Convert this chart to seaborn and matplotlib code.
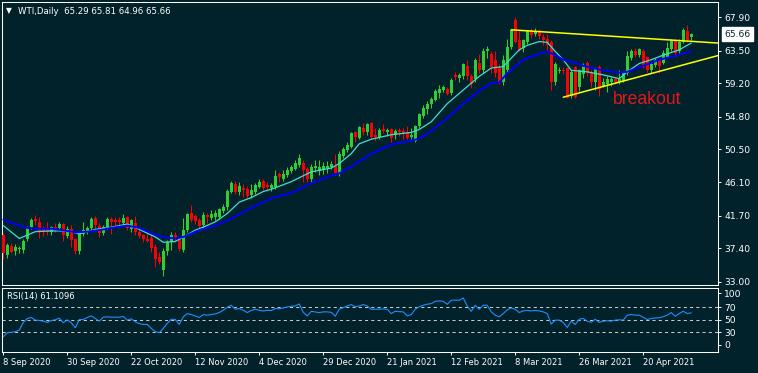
import matplotlib
matplotlib.use("Agg")
import matplotlib.pyplot as plt
import matplotlib.transforms as mtransforms
import numpy as np
import pandas as pd
import seaborn as sns

# --- data (bar 0 = 8 Sep 2020) ---
opens = [39.16, 36.52, 37.75, 37.10, 37.30, 37.20, 38.60, 40.20, 41.30, 40.90,
         39.90, 39.90, 39.60, 40.20, 40.10, 40.60, 39.00, 40.00, 38.60, 37.10,
         39.30, 39.60, 40.10, 41.40, 40.30, 39.40, 40.20, 41.30, 41.20, 41.20,
         40.70, 41.50, 39.90, 40.80, 39.60, 39.10, 38.60, 38.80, 37.60, 36.20,
         34.50, 37.00, 38.20, 39.10, 38.60, 37.20, 39.80, 42.00, 41.70, 41.10,
         40.50, 41.80, 41.40, 41.60, 41.60, 42.30, 42.90, 44.90, 45.90, 44.90,
         45.30, 45.20, 44.40, 44.90, 45.50, 46.30, 45.80, 45.30, 45.50, 47.20,
         46.60, 47.10, 47.60, 47.90, 48.40, 48.70, 47.90, 46.60, 48.00, 47.60,
         47.70, 48.00, 48.20, 48.30, 47.20, 49.60, 50.40, 50.80, 52.70, 52.00,
         53.30, 52.80, 53.90, 52.40, 52.10, 53.20, 52.70, 53.20, 52.40, 53.00,
         52.90, 52.70, 52.10, 51.60, 53.50, 54.90, 55.80, 56.40, 57.00, 57.90,
         58.30, 58.50, 57.90, 60.30, 59.90, 60.10, 61.50, 60.10, 59.80, 61.90,
         60.90, 63.50, 63.10, 62.20, 61.30, 59.40, 60.90, 64.00, 67.50, 64.90,
         63.80, 64.70, 66.20, 65.70, 66.00, 65.30, 65.10, 64.70, 59.40, 60.80,
         61.00, 61.20, 57.50, 61.30, 58.70, 60.40, 61.90, 60.70, 59.40, 61.30,
         58.80, 59.10, 59.40, 59.80, 59.30, 59.50, 60.50, 62.50, 63.50, 62.90,
         63.50, 62.60, 61.00, 61.60, 62.20, 61.90, 62.70, 63.70, 64.90, 63.40,
         64.60, 66.10, 65.29]
highs = [39.42, 38.14, 38.10, 37.97, 37.70, 38.60, 40.40, 41.40, 41.80, 41.50,
         40.30, 40.90, 40.40, 40.70, 40.90, 40.80, 40.30, 40.50, 38.80, 39.60,
         40.90, 40.30, 41.60, 41.70, 40.80, 40.50, 41.60, 41.60, 41.50, 41.60,
         41.90, 41.70, 41.30, 41.70, 39.90, 39.30, 39.60, 39.30, 38.00, 36.90,
         37.40, 38.50, 39.50, 39.50, 38.80, 41.40, 42.00, 43.10, 41.90, 41.40,
         42.20, 42.10, 42.50, 42.40, 42.70, 43.30, 45.20, 46.30, 46.30, 46.10,
         45.90, 45.60, 45.90, 46.00, 46.60, 46.60, 46.20, 46.00, 47.70, 47.50,
         47.80, 48.10, 48.40, 49.00, 49.90, 49.00, 48.20, 48.50, 49.10, 49.10,
         48.80, 48.90, 48.90, 49.90, 50.20, 50.80, 51.50, 52.80, 52.90, 53.60,
         54.00, 54.00, 54.10, 53.30, 53.30, 53.80, 53.30, 53.30, 53.20, 53.30,
         53.30, 53.60, 53.30, 53.70, 55.30, 56.30, 56.90, 57.40, 58.40, 59.00,
         59.00, 58.70, 59.90, 60.70, 60.50, 61.90, 62.30, 60.40, 62.50, 63.00,
         63.80, 64.10, 63.50, 63.50, 61.80, 62.90, 65.00, 66.40, 67.98, 66.10,
         65.00, 66.20, 66.50, 66.50, 66.30, 65.70, 65.70, 64.90, 62.00, 61.40,
         61.30, 61.40, 61.00, 61.50, 61.10, 61.90, 62.10, 61.00, 61.40, 61.60,
         59.90, 60.20, 60.00, 60.00, 60.90, 60.70, 63.40, 63.70, 63.80, 63.90,
         63.70, 62.80, 62.00, 62.50, 62.40, 63.60, 64.70, 65.00, 65.00, 65.00,
         66.50, 66.90, 65.81]
lows = [36.00, 36.08, 36.74, 36.52, 36.80, 36.80, 38.40, 40.00, 40.50, 38.80,
        39.00, 39.10, 39.20, 39.50, 39.80, 38.40, 38.70, 37.60, 36.60, 36.70,
        39.00, 39.30, 39.80, 39.90, 38.90, 39.10, 40.00, 39.30, 40.40, 40.50,
        40.30, 39.80, 39.50, 39.20, 38.80, 38.30, 38.30, 36.90, 34.90, 35.30,
        33.70, 36.50, 37.20, 38.30, 37.00, 36.90, 39.50, 40.90, 40.60, 39.90,
        40.00, 40.70, 41.10, 41.20, 41.30, 42.00, 42.50, 44.70, 44.60, 44.50,
        44.20, 44.00, 44.00, 44.60, 45.30, 45.10, 45.00, 45.00, 45.20, 46.20,
        46.30, 46.80, 47.30, 47.70, 48.10, 46.20, 46.10, 46.00, 47.50, 47.10,
        47.20, 47.30, 47.90, 47.10, 47.00, 49.30, 50.10, 50.60, 51.50, 51.90,
        52.30, 52.40, 51.80, 51.60, 51.90, 52.60, 52.20, 51.40, 51.80, 52.20,
        51.80, 51.90, 51.80, 51.40, 53.30, 54.60, 55.10, 55.90, 56.80, 57.20,
        58.00, 57.60, 57.60, 59.60, 59.40, 59.80, 59.60, 58.60, 59.40, 60.50,
        60.50, 62.50, 60.60, 60.00, 59.10, 59.00, 60.60, 63.70, 64.50, 63.40,
        63.30, 64.40, 65.20, 65.40, 65.00, 64.20, 63.40, 58.30, 59.00, 60.50,
        60.40, 57.20, 57.30, 57.20, 58.20, 59.90, 60.10, 58.70, 58.30, 57.50,
        58.70, 58.10, 58.80, 59.10, 59.10, 59.30, 60.30, 62.30, 62.70, 62.70,
        61.20, 60.70, 60.50, 61.40, 60.50, 61.70, 62.50, 63.40, 62.90, 63.20,
        64.50, 64.70, 64.96]
closes = [36.79, 37.84, 36.96, 37.60, 37.50, 38.40, 40.20, 41.10, 41.00, 39.60,
          39.60, 39.60, 40.20, 39.90, 40.60, 39.20, 39.90, 38.50, 37.00, 39.40,
          39.80, 40.10, 41.30, 40.50, 39.40, 40.20, 41.30, 40.90, 40.90, 40.90,
          41.40, 40.10, 41.10, 39.60, 39.00, 38.60, 38.40, 37.40, 36.00, 35.60,
          37.10, 38.20, 39.20, 38.60, 37.30, 39.80, 41.90, 41.20, 41.00, 40.30,
          41.80, 41.60, 41.90, 42.10, 42.60, 42.90, 45.00, 46.00, 44.80, 45.60,
          45.10, 44.30, 45.10, 45.70, 46.10, 45.40, 45.50, 45.70, 46.90, 46.80,
          47.20, 47.80, 48.20, 48.60, 49.30, 47.70, 46.60, 48.20, 48.30, 48.20,
          48.30, 48.30, 48.50, 47.30, 49.90, 50.50, 51.00, 52.60, 52.10, 53.40,
          52.70, 53.80, 52.10, 52.10, 53.00, 52.90, 53.00, 52.00, 52.90, 52.70,
          52.50, 52.00, 52.40, 53.50, 55.10, 55.90, 56.50, 57.10, 58.20, 58.50,
          58.70, 57.80, 59.60, 60.00, 60.30, 61.70, 60.10, 59.10, 62.30, 61.00,
          63.50, 63.70, 61.40, 60.50, 59.40, 62.30, 64.00, 66.20, 64.70, 63.60,
          64.90, 66.10, 65.60, 66.10, 65.40, 64.90, 64.20, 59.40, 61.80, 61.00,
          60.80, 57.30, 60.70, 57.40, 60.90, 61.60, 60.50, 59.40, 61.20, 58.50,
          59.30, 59.80, 59.80, 59.30, 59.70, 60.50, 62.80, 63.50, 62.90, 63.70,
          61.40, 60.90, 61.80, 62.30, 61.50, 63.20, 63.80, 64.80, 63.20, 64.70,
          66.20, 64.90, 65.66]

# moving averages, read at sampled bars
fast_ma_idx = [0, 4, 8, 12, 16, 19, 23, 27, 31, 34, 38, 40, 43, 45, 48, 50, 53, 56, 59, 62,
               65, 67, 72, 77, 82, 84, 87, 89, 92, 97, 102, 104, 107, 111, 115, 119, 122, 125, 129, 131,
               134, 136, 138, 140, 142, 144, 146, 150, 154, 156, 159, 162, 165, 169, 172]
fast_ma = [40.4, 38.7, 39.6, 39.7, 39.7, 39.3, 39.9, 40.2, 40.6, 39.9, 38.9, 38.2, 38.3, 38.9, 39.8, 40.2, 40.9, 42.0, 43.5, 44.1,
           44.9, 45.2, 46.2, 47.5, 48.0, 48.6, 49.9, 51.2, 51.8, 52.4, 52.7, 53.1, 54.1, 56.5, 58.3, 60.1, 61.2, 61.4, 63.6, 64.2,
           64.7, 64.6, 63.4, 62.3, 60.9, 60.8, 60.7, 60.3, 59.8, 60.7, 61.8, 62.3, 62.9, 63.6, 64.5]
slow_ma_idx = [0, 2, 4, 6, 8, 12, 16, 18, 21, 24, 27, 31, 34, 38, 40, 43, 45, 49, 53, 57,
               60, 63, 67, 72, 77, 82, 84, 87, 92, 97, 102, 104, 107, 111, 115, 119, 122, 124, 126, 130,
               134, 136, 138, 140, 143, 145, 150, 154, 156, 160, 164, 168, 172]
slow_ma = [41.2, 40.8, 40.4, 40.1, 40.0, 40.0, 39.7, 39.5, 39.6, 39.8, 40.1, 40.4, 40.1, 39.2, 38.9, 38.7, 38.9, 39.8, 40.4, 41.3,
           42.2, 43.0, 44.0, 44.7, 46.0, 47.0, 47.3, 48.2, 49.9, 51.1, 51.6, 51.9, 52.9, 54.6, 56.5, 58.2, 59.2, 59.3, 60.5, 62.3,
           63.1, 63.4, 62.9, 62.3, 61.9, 61.5, 60.9, 60.6, 60.7, 61.5, 62.3, 62.8, 63.4]

rsi_vals = [23, 29.4, 30, 31, 33.6, 45.8, 52, 53.7, 49.5, 49, 47.9,
            45.8, 48.9, 50, 52.6, 45.2, 50, 45.2, 37.3, 50.5, 50.5,
            53.7, 56.3, 52.1, 47.9, 54.2, 54.7, 54.2, 54.2, 54.2, 55.3, 49.5, 51.6,
            46.8, 44, 42.6, 42.6, 36.2, 31, 29.4, 36.2, 44.2, 51,
            50.5, 42.6, 54.7, 60, 58.4, 56, 53.7, 58.4, 57.5, 58.4,
            59.5, 61.6, 65.3, 70, 73.3, 66.9, 68, 65.3, 61.6, 65,
            66.9, 65.3, 64, 65.3, 64.8, 68, 67.5, 69, 70.5, 71.7,
            72.2, 75.4, 62, 56.3, 63.7, 62.5, 61.6, 62.7, 62.7, 62,
            55.8, 66.9, 69.5, 72.2, 74.3, 71, 72.2, 74.3, 72.2, 66.9,
            66.9, 66.9, 67.5, 66.9, 60, 63.7, 63, 62.7, 56.3, 58.4,
            66.9, 71, 73.3, 75, 75.9, 79.6, 80.2, 79.6, 74.8, 81.2,
            81.5, 81.2, 84.9, 72.2, 63.7, 73.3, 66.9, 73.3, 73.3, 62.7,
            57.4, 54.7, 60, 66, 69, 66.9, 61.6, 64.2, 65, 64.2,
            65, 64.2, 62.7, 60, 43.1, 49.5, 49.5, 45.8, 37.8, 47.9,
            42.6, 51, 52.1, 47.9, 46, 51, 45.8, 47.9, 48.5, 47.9,
            49.5, 50, 49.5, 57.4, 58.4, 57.4, 57.4, 54, 50.5, 52.1,
            53, 53.2, 55, 57.4, 61.6, 55.8, 60, 63.7, 60, 61.1]

date_tick_idx = [0, 16, 32, 48, 64, 80, 96, 112, 128, 144, 160]
date_labels = ["8 Sep 2020", "30 Sep 2020", "22 Oct 2020", "12 Nov 2020", "4 Dec 2020",
               "29 Dec 2020", "21 Jan 2021", "12 Feb 2021", "8 Mar 2021", "26 Mar 2021",
               "20 Apr 2021"]
price_ticks = [67.90, 63.50, 59.20, 54.80, 50.50, 46.10, 41.70, 37.40, 33.00]
rsi_levels = [30, 50, 70]

upper_trend_x = [127, 178.7]
upper_trend_y = [66.25, 64.5]
lower_trend_x = [140, 178.7]
lower_trend_y = [57.35, 62.85]

last_price = 65.66
header = "WTI,Daily  65.29 65.81 64.96 65.66"
rsi_header = "RSI(14) 61.1096"

# --- colours ---
BG = "#01212B"
UP = "#32CD32"
DOWN = "#FF0000"
FAST = "#40E0D0"
SLOW = "#0000FF"
RSI_C = "#1E90FF"
TREND = "#FFFF00"

sns.set_style("dark", {"axes.facecolor": BG, "figure.facecolor": BG,
                       "axes.edgecolor": "white", "text.color": "white",
                       "xtick.color": "white", "ytick.color": "white"})
plt.rcParams["font.family"] = ["DejaVu Sans"]

W, H = 758, 373
fig = plt.figure(figsize=(W / 100, H / 100), dpi=100)
ax = fig.add_axes([2 / W, 88 / H, 716 / W, 283 / H])
ax_rsi = fig.add_axes([2 / W, 21 / H, 716 / W, 64.5 / H], sharex=ax)

df = pd.DataFrame({"o": opens, "h": highs, "l": lows, "c": closes})
df["i"] = np.arange(len(df))
colors = np.where(df.c >= df.o, UP, DOWN)

# candles
ax.vlines(df.i, df.l, df.h, colors=colors, lw=0.75, zorder=2)
ax.bar(df.i, np.maximum((df.c - df.o).abs(), 0.1), bottom=np.minimum(df.o, df.c),
       width=0.75, color=colors, linewidth=0, zorder=3)

# moving averages
sns.lineplot(x=fast_ma_idx, y=fast_ma, ax=ax, color=FAST, lw=0.9, zorder=4)
sns.lineplot(x=slow_ma_idx, y=slow_ma, ax=ax, color=SLOW, lw=1.4, zorder=4)

# trend lines
ax.plot(upper_trend_x, upper_trend_y, color=TREND, lw=1.1, zorder=5)
ax.plot(lower_trend_x, lower_trend_y, color=TREND, lw=1.1, zorder=5)

ax.text(152.4, 56.42, "breakout", color="#E3171B", fontsize=12.7,
        family=["Liberation Sans", "DejaVu Sans"], va="baseline", ha="left", zorder=6)

ax.set_xlim(-0.325, 178.7)
ax.set_ylim(32.56, 69.92)
ax.yaxis.tick_right()
ax.set_yticks(price_ticks)
ax.set_yticklabels([f"{v:.2f}" for v in price_ticks])
ax.tick_params(axis="y", right=True, direction="out", length=2, width=0.7,
               colors="white", labelsize=6.6, pad=2.5)
ax.tick_params(axis="x", bottom=False, labelbottom=False)
for s in ax.spines.values():
    s.set_color("white")
    s.set_linewidth(0.75)

# last price marker
trans = mtransforms.blended_transform_factory(ax.transAxes, ax.transData)
ax.text(1.0085, last_price, f"{last_price:.2f}", transform=trans, ha="left", va="center",
        color=BG, fontsize=6.6, clip_on=False,
        bbox=dict(boxstyle="square,pad=0.25", fc="white", ec="white"))

# RSI panel
sns.lineplot(x=np.arange(len(rsi_vals)), y=rsi_vals, ax=ax_rsi, color=RSI_C, lw=0.8)
for lvl in rsi_levels:
    ax_rsi.axhline(lvl, color="#C8C8C8", lw=0.75, linestyle=(0, (3, 3)), zorder=1)
ax_rsi.set_ylim(-1.5, 101.7)
ax_rsi.yaxis.tick_right()
ax_rsi.set_yticks([9.7, 30, 50, 70, 92.4])
ax_rsi.set_yticklabels(["0", "30", "50", "70", "100"])
ax_rsi.tick_params(axis="y", right=True, direction="out", length=2, width=0.7,
                   colors="white", labelsize=6.6, pad=2.5)
ax_rsi.set_xticks(date_tick_idx)
ax_rsi.set_xticklabels(date_labels)
ax_rsi.tick_params(axis="x", bottom=True, direction="out", length=2.5, width=0.7,
                   colors="white", labelsize=6.0, pad=1.5)
for lab in ax_rsi.get_xticklabels():
    lab.set_ha("left")
for s in ax_rsi.spines.values():
    s.set_color("white")
    s.set_linewidth(0.75)
ax_rsi.set_xlabel("")
ax_rsi.set_ylabel("")
ax.set_xlabel("")
ax.set_ylabel("")

# headers
fig.text(6 / W, 1 - 11 / H, "\u25BC", color="white", fontsize=5.5, va="center", ha="left")
fig.text(18 / W, 1 - 11 / H, header, color="white", fontsize=6.2, va="center", ha="left")
fig.text(7 / W, 1 - 296 / H, rsi_header, color="white", fontsize=6.0, va="center", ha="left")

fig.savefig("out.png", dpi=100, facecolor=BG)
